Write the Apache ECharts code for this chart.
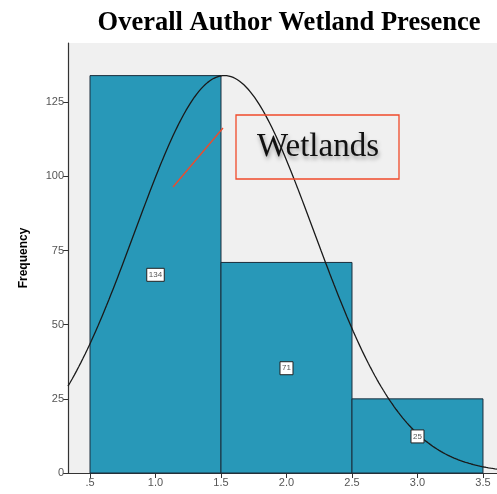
<!DOCTYPE html>
<html>
<head>
<meta charset="utf-8">
<script src="https://cdn.jsdelivr.net/npm/echarts@6/dist/echarts.min.js"></script>
<style>
  html, body { margin: 0; padding: 0; background: #ffffff; }
  #chart { width: 497px; height: 494px; }
</style>
</head>
<body>
<div id="chart"></div>
<script>
// Histogram of wetland presence scores per author
const binStarts = [0.5, 1.5, 2.5];
const binEnds = [1.5, 2.5, 3.5];
const binMids = [1, 2, 3];
const counts = [134, 71, 25];
const xTicks = [0.5, 1.0, 1.5, 2.0, 2.5, 3.0, 3.5];
const yTicks = [0, 25, 50, 75, 100, 125];

// Normal curve fitted to the binned counts (mean / std. dev. of the sample)
const total = counts.reduce((a, b) => a + b, 0);
const mean = counts.reduce((s, c, i) => s + c * binMids[i], 0) / total;
const variance = counts.reduce((s, c, i) => s + c * Math.pow(binMids[i] - mean, 2), 0) / (total - 1);
const sd = Math.sqrt(variance);
const binWidth = 1;
const xMin = 0.332, xMax = 3.607;
const curve = [];
for (let k = 0; k <= 200; k++) {
  const x = xMin + (xMax - xMin) * k / 200;
  const z = (x - mean) / sd;
  curve.push([x, total * binWidth * Math.exp(-0.5 * z * z) / (sd * Math.sqrt(2 * Math.PI))]);
}

const bars = counts.map((c, i) => [binStarts[i], binEnds[i], c]);

const chart = echarts.init(document.getElementById('chart'));
chart.setOption({
  animation: false,
  backgroundColor: '#ffffff',
  title: {
    text: 'Overall Author Wetland Presence',
    left: 284, top: 5, textAlign: 'center',
    textStyle: { fontFamily: 'Liberation Serif', fontWeight: 'bold', fontSize: 26.5, color: '#000' }
  },
  grid: {
    left: 68, right: 0, top: 43, bottom: 21,
    show: true, backgroundColor: '#f0f0f0', borderWidth: 0
  },
  xAxis: {
    type: 'value', min: xMin, max: xMax,
    splitLine: { show: false },
    axisLine: { onZero: false, lineStyle: { color: '#333', width: 1.2 } },
    axisTick: { customValues: xTicks, length: 5, lineStyle: { color: '#333' } },
    axisLabel: {
      customValues: xTicks, color: '#555', fontFamily: 'Liberation Sans', fontSize: 11, margin: 4,
      formatter: v => (v === 0.5 ? '.5' : v.toFixed(1))
    }
  },
  yAxis: {
    type: 'value', min: 0, max: 145,
    name: 'Frequency', nameLocation: 'middle', nameGap: 38,
    nameTextStyle: { fontFamily: 'Liberation Sans', fontWeight: 'bold', fontSize: 12, color: '#000' },
    splitLine: { show: false },
    axisLine: { show: true, lineStyle: { color: '#333', width: 1.2 } },
    axisTick: { show: true, customValues: yTicks, length: 5, lineStyle: { color: '#333' } },
    axisLabel: { customValues: yTicks, color: '#555', fontFamily: 'Liberation Sans', fontSize: 11, margin: 4 }
  },
  series: [
    {
      // histogram bars
      type: 'custom',
      data: bars,
      renderItem: function (params, api) {
        const p0 = api.coord([api.value(0), api.value(2)]);
        const p1 = api.coord([api.value(1), 0]);
        return {
          type: 'rect',
          shape: { x: p0[0], y: p0[1], width: p1[0] - p0[0], height: p1[1] - p0[1] },
          style: { fill: '#2898b8', stroke: '#1b2d3c', lineWidth: 1 }
        };
      },
      z: 2
    },
    {
      // fitted normal curve
      type: 'line',
      data: curve,
      showSymbol: false,
      smooth: false,
      lineStyle: { color: '#1a1a1a', width: 1.3 },
      z: 3
    },
    {
      // boxed count labels at the middle of each bar
      type: 'custom',
      data: bars,
      renderItem: function (params, api) {
        const mid = api.coord([(api.value(0) + api.value(1)) / 2, api.value(2) / 2]);
        const label = String(api.value(2));
        const w = label.length * 4.5 + 4;
        return {
          type: 'group',
          children: [
            {
              type: 'rect',
              shape: { x: mid[0] - w / 2, y: mid[1] - 6, width: w, height: 13 },
              style: { fill: '#ffffff', stroke: '#222', lineWidth: 1 }
            },
            {
              type: 'text',
              style: {
                x: mid[0], y: mid[1] + 0.5, text: label, align: 'center', verticalAlign: 'middle',
                fill: '#555', fontFamily: 'Liberation Sans', fontSize: 8
              }
            }
          ]
        };
      },
      z: 4
    }
  ],
  graphic: [
    {
      type: 'line',
      shape: { x1: 173, y1: 187, x2: 223, y2: 128 },
      style: { stroke: '#f04a2a', lineWidth: 1.3 },
      z: 10
    },
    {
      type: 'rect',
      shape: { x: 236, y: 115, width: 163, height: 64 },
      style: { fill: 'rgba(0,0,0,0)', stroke: '#f04a2a', lineWidth: 1.3 },
      z: 10
    },
    {
      type: 'text',
      left: 257, top: 131,
      style: {
        text: 'Wetlands', fill: '#111', fontFamily: 'Liberation Serif', fontSize: 33,
        textShadowColor: 'rgba(0,0,0,0.35)', textShadowBlur: 4, textShadowOffsetX: 1, textShadowOffsetY: 3
      },
      z: 10
    }
  ]
});
</script>
</body>
</html>
